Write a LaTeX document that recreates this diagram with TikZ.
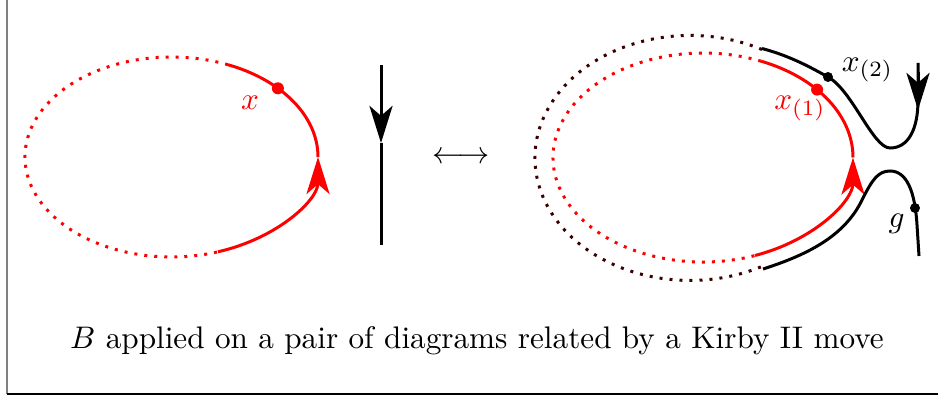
\documentclass[tikz,border=0pt]{standalone}
\usetikzlibrary{arrows.meta}
\definecolor{darkred}{RGB}{60,0,0}
\begin{document}
\begin{tikzpicture}[x=0.3205pt,y=-0.3205pt,
  strand/.style={line width=0.96pt},
  dotline/.style={line width=0.96pt,dash pattern=on 0.96pt off 2.25pt},
  tipped/.style={-{Stealth[length=11.9pt,width=7.4pt,inset=3.2pt]}},
  blob/.style={circle,inner sep=0pt,minimum size=3.2pt}]
\useasboundingbox (0,0) rectangle (938,397);
% frame
\draw[gray,line width=0.55pt] (6.8,-5) -- (6.8,394);
\draw[line width=0.55pt] (6.8,394) -- (945,394);

% ---------- left picture ----------
\coordinate (Ltop) at (228,64.75);
\coordinate (Lbot) at (218,251.8);
\coordinate (Lright) at (318,157);
\draw[red,dotline] (Ltop) arc[start angle=-67.3,end angle=-288.5,x radius=146.5,y radius=100];
\draw[red,strand,tipped] (Lbot) arc[start angle=71.5,end angle=0,x radius=146.5,y radius=100];
\draw[red,strand] (Lright) arc[start angle=0,end angle=-67.3,x radius=146.5,y radius=100];
\node[blob,fill=red,minimum size=3.85pt] (dx) at (277.9,88.3) {};
\node[red] (lx) at (250,102.5) {$x$};

\coordinate (Vtop) at (381,65);
\coordinate (Vmid) at (381,143);
\coordinate (Vbot) at (381,245);
\draw[strand,tipped] (Vtop) -- (Vmid);
\draw[strand] (Vmid) -- (Vbot);

\node (arr) at (461,158) {$\longleftrightarrow$};

% ---------- right picture ----------
\coordinate (Otop) at (762,49.5);
\draw[darkred,dotline] (Otop) arc[start angle=-62.3,end angle=-297.2,x radius=155,y radius=122.5];

\coordinate (Rtop) at (761.1,61.2);
\coordinate (Rbot) at (755,255.5);
\coordinate (Rright) at (853,157.5);
\draw[red,dotline] (Rtop) arc[start angle=-67.2,end angle=-290.3,x radius=150,y radius=104.5];
\draw[red,strand,tipped] (Rbot) arc[start angle=69.7,end angle=0,x radius=150,y radius=104.5];
\draw[red,strand] (Rright) arc[start angle=0,end angle=-67.2,x radius=150,y radius=104.5];
\node[blob,fill=red,minimum size=3.85pt] (dx1) at (817.1,89.6) {};

% upper black strand
\coordinate (A) at (762,48.5);
\coordinate (P) at (828,77);
\coordinate (U) at (890,148);
\coordinate (Dm) at (918,100);
\coordinate (D) at (918,63);
\draw[strand] (A) .. controls (790,56) and (810,67) .. (P)
  .. controls (852,90) and (873,148) .. (U)
  .. controls (908,148) and (918,130) .. (Dm) -- (D);
\coordinate (Ta) at (918,72);
\coordinate (Tb) at (918,110);
\draw[strand,tipped] (Ta) -- (Tb);
\node[blob,fill=black] (dx2) at (P) {};

% lower black strand
\coordinate (E) at (763,269);
\coordinate (G) at (862,200);
\coordinate (T) at (890,171);
\coordinate (H) at (917,225);
\coordinate (F) at (919,256);
\draw[strand] (E) .. controls (810,254) and (845,235) .. (G)
  .. controls (872,180) and (878,171) .. (T)
  .. controls (907,171) and (915,192) .. (H) -- (F);
\node[blob,fill=black] (dg) at (915,208) {};

\node[red] (lx1) at (800,108.5) {$x_{(1)}$};
\node (lx2) at (867.5,70) {$x_{(2)}$};
\node (lg) at (896.5,224) {$g$};

% caption
\node[anchor=base] (cap) at (477,348.3) {$B$ applied on a pair of diagrams related by a Kirby II move};
\end{tikzpicture}
\end{document}
